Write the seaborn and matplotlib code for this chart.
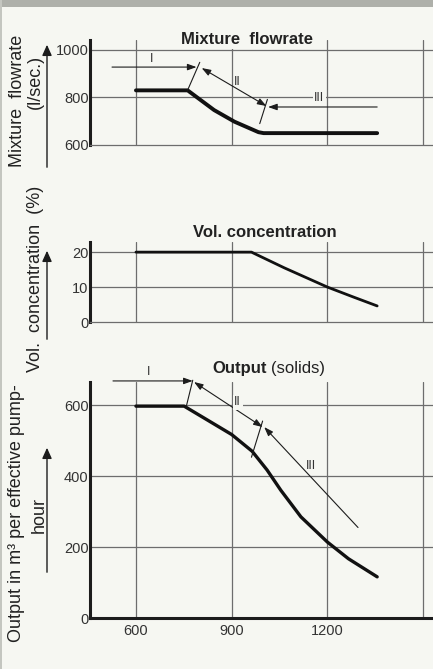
import matplotlib
matplotlib.use("Agg")
import matplotlib.pyplot as plt
import seaborn as sns
import pandas as pd
from matplotlib.patches import Rectangle

sns.set_theme(style="white")
plt.rcParams['font.family'] = ['Liberation Sans', 'DejaVu Sans']

# ---- data ----
flow_x = [600, 762, 845, 909, 984, 1000, 1356]
flow_y = [830, 830, 747, 698, 654, 650, 650]

conc_x = [600, 962, 1065, 1200, 1280, 1356]
conc_y = [20, 20, 15.5, 10, 7.2, 4.6]

out_x = [600, 751, 820, 900, 964, 1011, 1054, 1117, 1200, 1266, 1356]
out_y = [597, 597, 560, 517, 470, 417, 360, 285, 214, 167, 116]

x_ticks = [600, 900, 1200]
flow_ticks = [600, 800, 1000]
conc_ticks = [0, 10, 20]
out_ticks = [0, 200, 400, 600]

W, H = 433, 669
fig = plt.figure(figsize=(W / 100, H / 100), dpi=100)
bg = '#f6f7f2'
fig.patch.set_facecolor(bg)
fig.patches.append(Rectangle((0, 1 - 7 / H), 1, 7 / H, transform=fig.transFigure,
                             facecolor='#aeb0aa', edgecolor='none', zorder=0))
fig.patches.append(Rectangle((0, 0), 2 / W, 1, transform=fig.transFigure,
                             facecolor='#c4c6c0', edgecolor='none', zorder=0))

XL = (456, 1531)
GRID_C = '#6d6d6d'
INK = '#1c1c1c'
TXT = '#222222'


def make_ax(top_px, bot_px, ylim, yticks, xgrid=(600, 900, 1200, 1500)):
    ax = fig.add_axes([90 / W, 1 - bot_px / H, 1 - 90 / W, (bot_px - top_px) / H])
    ax.set_facecolor('none')
    ax.set_xlim(*XL)
    ax.set_ylim(*ylim)
    for s in ['top', 'right']:
        ax.spines[s].set_visible(False)
    ax.spines['left'].set_color(INK)
    ax.spines['left'].set_linewidth(2.2)
    ax.spines['bottom'].set_color(GRID_C)
    ax.spines['bottom'].set_linewidth(0.9)
    for xv in xgrid:
        ax.axvline(xv, color=GRID_C, lw=0.9, zorder=1)
    for yv in yticks:
        if yv > ylim[0]:
            ax.axhline(yv, color=GRID_C, lw=0.9, zorder=1)
    ax.set_yticks(yticks)
    ax.set_yticklabels([str(t) for t in yticks], fontsize=10.5, color='#333333')
    ax.tick_params(axis='y', length=0, pad=1)
    ax.set_xticks([])
    return ax


def arrow(ax, start, end, both=False):
    style = '<|-|>' if both else '-|>'
    ax.annotate('', xy=end, xytext=start,
                arrowprops=dict(arrowstyle=style + ',head_length=0.45,head_width=0.16',
                                color=INK, lw=0.8, shrinkA=0, shrinkB=0),
                annotation_clip=False, zorder=4)


def seg(ax, p, q):
    ax.plot([p[0], q[0]], [p[1], q[1]], color=INK, lw=0.8, zorder=4, clip_on=False)


def roman(ax, x, y, s, box=False):
    kw = dict(bbox=dict(facecolor=bg, edgecolor='none', pad=1.2)) if box else {}
    ax.text(x, y, s, ha='center', va='center', fontsize=9, color='#333333', zorder=5, **kw)


# ---- top: mixture flowrate ----
ax1 = make_ax(40, 145, (600, 1042), flow_ticks)
df1 = pd.DataFrame({'x': flow_x, 'y': flow_y})
sns.lineplot(data=df1, x='x', y='y', ax=ax1, color='#111111', lw=2.8, zorder=3)
ax1.set_xlabel(''); ax1.set_ylabel('')
ax1.text(948, 1042, 'Mixture  flowrate', ha='center', va='center', fontsize=12,
         fontweight='bold', color=TXT, zorder=6,
         bbox=dict(facecolor=bg, edgecolor='none', pad=1.0))
arrow(ax1, (525, 928), (790, 928))
seg(ax1, (762, 831), (800, 948))
arrow(ax1, (806, 924), (1009, 764), both=True)
arrow(ax1, (1356, 760), (1014, 760))
seg(ax1, (988, 690), (1012, 792))
roman(ax1, 650, 960, 'I')
roman(ax1, 919, 865, 'II')
roman(ax1, 1175, 796, 'III', box=True)

# ---- middle: vol. concentration ----
ax2 = make_ax(242, 322, (0, 22.9), conc_ticks)
df2 = pd.DataFrame({'x': conc_x, 'y': conc_y})
sns.lineplot(data=df2, x='x', y='y', ax=ax2, color='#111111', lw=2.0, zorder=3)
ax2.set_xlabel(''); ax2.set_ylabel('')
ax2.text(1005, 25.6, 'Vol. concentration', ha='center', va='center', fontsize=12,
         fontweight='bold', color=TXT, zorder=6)

# ---- bottom: output ----
ax3 = make_ax(382, 618, (0, 665), out_ticks)
ax3.spines['bottom'].set_color(INK)
ax3.spines['bottom'].set_linewidth(2.2)
df3 = pd.DataFrame({'x': out_x, 'y': out_y})
sns.lineplot(data=df3, x='x', y='y', ax=ax3, color='#111111', lw=2.4, zorder=3)
ax3.set_xticks(x_ticks)
ax3.set_xticklabels([str(t) for t in x_ticks], fontsize=10.5, color='#333333')
ax3.tick_params(axis='x', length=0, pad=4)
ax3.set_ylabel('')
ax3.set_xlabel('Delivery  pipeline  length  in  m', fontsize=13, color=TXT, labelpad=7)
t1 = ax3.text(838, 702, 'Output', ha='left', va='center', fontsize=12,
              fontweight='bold', color=TXT)
ax3.annotate('(solids)', xy=(1, 0.5), xycoords=t1, xytext=(3, 0),
             textcoords='offset points', ha='left', va='center', fontsize=12,
             color=TXT)
arrow(ax3, (528, 668), (778, 668))
seg(ax3, (758, 597), (778, 670))
arrow(ax3, (782, 665), (997, 538), both=True)
arrow(ax3, (1296, 255), (1002, 538))
seg(ax3, (962, 453), (997, 555))
roman(ax3, 640, 692, 'I')
roman(ax3, 919, 608, 'II', box=True)
roman(ax3, 1150, 428, 'III')


# ---- y-axis labels with arrows ----
def fig_arrow(x_px, y0_px, y1_px):
    fig.add_artist(matplotlib.patches.FancyArrowPatch(
        (x_px / W, 1 - y0_px / H), (x_px / W, 1 - y1_px / H),
        transform=fig.transFigure, arrowstyle='-|>,head_length=4,head_width=1.8',
        color=INK, lw=1.0, mutation_scale=1.6))


fig.text(18 / W, 1 - 101 / H, 'Mixture  flowrate', rotation=90, ha='center', va='center',
         fontsize=13, color=TXT)
fig.text(35 / W, 1 - 82 / H, '(l/sec.)', rotation=90, ha='center', va='center',
         fontsize=13, color=TXT)
fig_arrow(47, 170, 42)

fig.text(36 / W, 1 - 279 / H, 'Vol.  concentration  (%)', rotation=90, ha='center',
         va='center', fontsize=13, color=TXT)
fig_arrow(47, 342, 248)

fig.text(17 / W, 1 - 513 / H, 'Output in m³ per effective pump-', rotation=90,
         ha='center', va='center', fontsize=13, color=TXT)
fig.text(39 / W, 1 - 515 / H, 'hour', rotation=90, ha='center', va='center',
         fontsize=13, color=TXT)
fig_arrow(47, 575, 445)

fig.savefig('out.png', dpi=100, facecolor=fig.get_facecolor())
